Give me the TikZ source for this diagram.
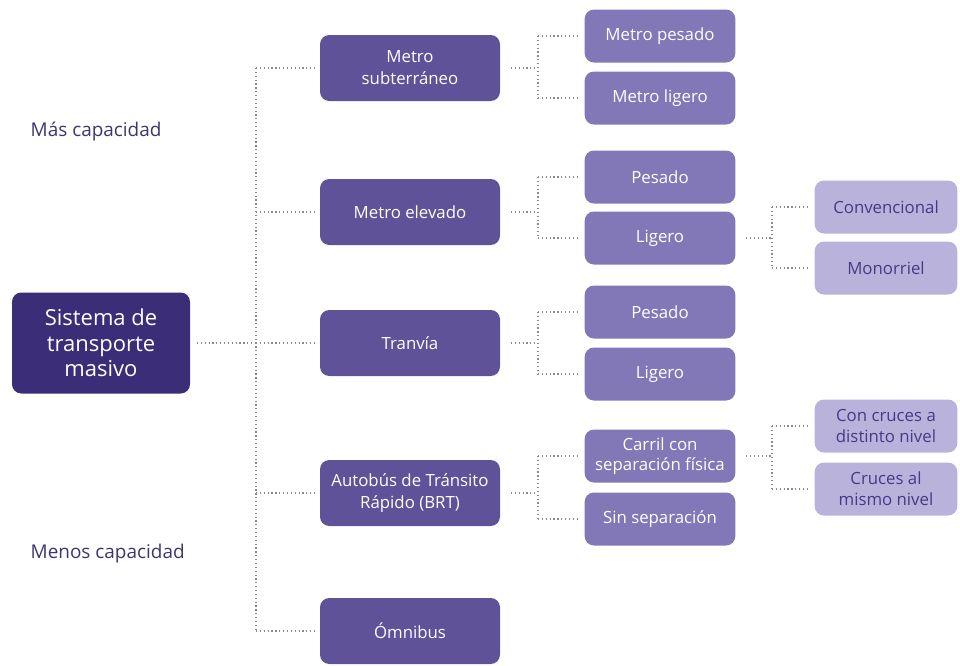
\documentclass[tikz,border=0pt]{standalone}
\usepackage{fontspec}
\setmainfont{Open Sans}
\begin{document}
\begin{tikzpicture}[x=0.75pt,y=-0.75pt,
  every node/.style={font=\fontsize{12.6}{15.5}\selectfont},
  box/.style={rounded corners=7pt, align=center, inner sep=1pt, text=white},
  rootbox/.style={box, fill=rootc, minimum width=133.5pt, minimum height=75.75pt, font=\fontsize{16.5}{19}\selectfont},
  lone/.style={box, fill=lonec, minimum width=135pt, minimum height=49.5pt, font=\fontsize{12.6}{16.5}\selectfont},
  ltwo/.style={box, fill=ltwoc, minimum width=113pt, minimum height=39.75pt},
  lthree/.style={box, fill=lthreec, text=lthreet, minimum width=107pt, minimum height=39.75pt},
  conn/.style={draw=connc, dotted, line width=0.9pt},
  side/.style={text=sidec, anchor=west, font=\fontsize{14.2}{17}\selectfont}
]
\definecolor{rootc}{HTML}{3B2D78}
\definecolor{lonec}{HTML}{5F5299}
\definecolor{ltwoc}{HTML}{8278B8}
\definecolor{lthreec}{HTML}{B9B3DC}
\definecolor{lthreet}{HTML}{463A86}
\definecolor{connc}{HTML}{8A8A8A}
\definecolor{sidec}{HTML}{3E3570}
\useasboundingbox (0,0) rectangle (960,665);

\node[rootbox] (root) at (101,343) {Sistema de\\transporte\\masivo};

\node[lone] (m1) at (410,68) {Metro\\subterráneo};
\node[lone] (m2) at (410,212) {Metro elevado};
\node[lone] (m3) at (410,343) {Tranvía};
\node[lone] (m4) at (410,493) {Autobús de Tránsito\\Rápido (BRT)};
\node[lone] (m5) at (410,631) {Ómnibus};

\node[ltwo] (a1) at (660,36) {Metro pesado};
\node[ltwo] (a2) at (660,98) {Metro ligero};
\node[ltwo] (b1) at (660,177) {Pesado};
\node[ltwo] (b2) at (660,238) {Ligero};
\node[ltwo] (c1) at (660,312) {Pesado};
\node[ltwo] (c2) at (660,374) {Ligero};
\node[ltwo] (d1) at (660,456) {Carril con\\separación física};
\node[ltwo] (d2) at (660,519) {Sin separación};

\node[lthree] (e1) at (886,207) {Convencional};
\node[lthree] (e2) at (886,268) {Monorriel};
\node[lthree] (f1) at (886,426) {Con cruces a\\distinto nivel};
\node[lthree] (f2) at (886,489) {Cruces al\\mismo nivel};

\node[side] (mas) at (26,132) {Más capacidad};
\node[side] (menos) at (26,554) {Menos capacidad};

% junction coordinates
\coordinate (j0) at (256,343);
\coordinate (ja) at (538,68);
\coordinate (jb) at (538,212);
\coordinate (jc) at (538,343);
\coordinate (jd) at (538,493);
\coordinate (je) at (772,238);
\coordinate (jf) at (772,456);

% root level
\draw[conn, shorten <=5pt] (root.east) -- (j0);
\draw[conn] (j0 |- m1.west) -- (j0 |- m5.west);
\foreach \n in {m1,m2,m3,m4,m5}
  \draw[conn, shorten >=2pt] (j0 |- \n.west) -- (\n.west);

% level 1 -> level 2
\foreach \p/\u/\l/\j in {m1/a1/a2/ja, m2/b1/b2/jb, m3/c1/c2/jc, m4/d1/d2/jd} {
  \draw[conn, shorten <=8pt] (\p.east) -- (\j);
  \draw[conn] (\j |- \u.west) -- (\j |- \l.west);
  \draw[conn, shorten >=5pt] (\j |- \u.west) -- (\u.west);
  \draw[conn, shorten >=5pt] (\j |- \l.west) -- (\l.west);
}

% level 2 -> level 3
\foreach \p/\u/\l/\j in {b2/e1/e2/je, d1/f1/f2/jf} {
  \draw[conn, shorten <=8pt] (\p.east) -- (\j);
  \draw[conn] (\j |- \u.west) -- (\j |- \l.west);
  \draw[conn, shorten >=5pt] (\j |- \u.west) -- (\u.west);
  \draw[conn, shorten >=5pt] (\j |- \l.west) -- (\l.west);
}
\end{tikzpicture}
\end{document}
